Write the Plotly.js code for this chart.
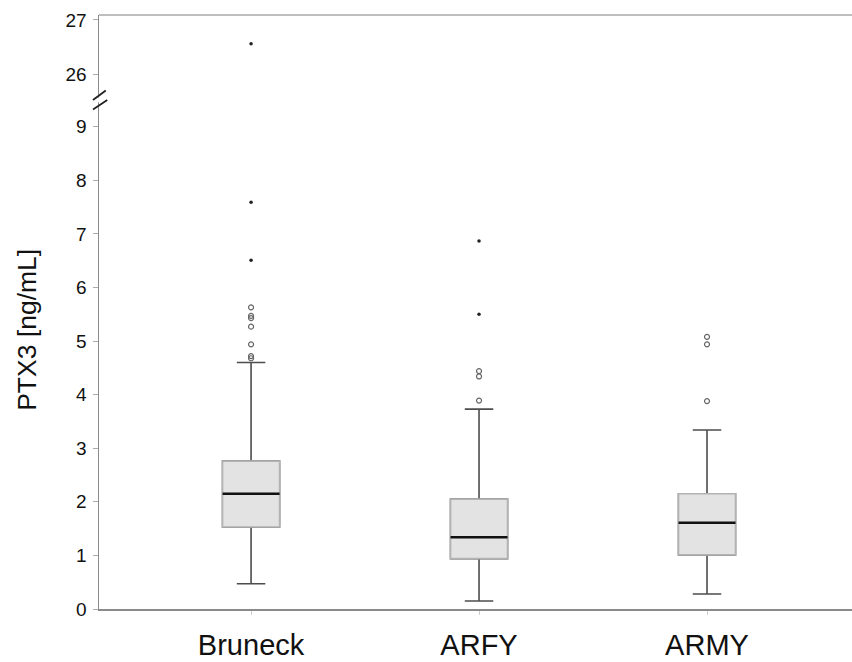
<!DOCTYPE html>
<html>
<head>
<meta charset="utf-8">
<script src="https://cdn.plot.ly/plotly-3.0.1.min.js"></script>
<style>html,body{margin:0;padding:0;background:#fff;}#chart{width:852px;height:662px;}</style>
</head>
<body>
<div id="chart"></div>
<script>
// ---- data ----
var groups = ['Bruneck', 'ARFY', 'ARMY'];
var q1 = [1.53, 0.94, 1.01];
var medians = [2.15, 1.34, 1.61];
var q3 = [2.76, 2.05, 2.15];
var lowerWhisker = [0.47, 0.15, 0.28];
var upperWhisker = [4.60, 3.73, 3.34];

// mild outliers (open circles)
var outlierGroup = ['Bruneck','Bruneck','Bruneck','Bruneck','Bruneck','Bruneck','Bruneck',
                    'ARFY','ARFY','ARFY',
                    'ARMY','ARMY','ARMY'];
var outlierValue = [5.63, 5.47, 5.43, 5.27, 4.94, 4.72, 4.68,
                    4.44, 4.34, 3.89,
                    5.08, 4.94, 3.88];
// extreme values (stars) on lower segment
var extremeGroup = ['Bruneck','Bruneck','ARFY','ARFY'];
var extremeValue = [7.59, 6.51, 6.87, 5.50];
// extreme values on upper (broken) segment
var highGroup = ['Bruneck'];
var highValue = [26.56];

var lowerTicks = [0,1,2,3,4,5,6,7,8,9];
var upperTicks = [26, 27];

var boxW = 0.25;
var traces = [
  { // whiskers
    type: 'box', x: groups, q1: q1, median: medians, q3: q3,
    lowerfence: lowerWhisker, upperfence: upperWhisker,
    width: boxW, whiskerwidth: 0.5, boxpoints: false,
    line: {color: '#4d4d4d', width: 1.6}, fillcolor: 'rgba(0,0,0,0)',
    hoverinfo: 'skip', showlegend: false, xaxis: 'x', yaxis: 'y'
  },
  { // boxes
    type: 'box', x: groups, q1: q1, median: medians, q3: q3,
    lowerfence: q1, upperfence: q3,
    width: boxW, whiskerwidth: 0, boxpoints: false,
    line: {color: '#b3b3b3', width: 1.6}, fillcolor: '#e3e3e3',
    hoverinfo: 'skip', showlegend: false, xaxis: 'x', yaxis: 'y'
  },
  { // medians
    type: 'box', x: groups, q1: medians, median: medians, q3: medians,
    lowerfence: medians, upperfence: medians,
    width: boxW, whiskerwidth: 0, boxpoints: false,
    line: {color: '#111111', width: 2.6}, fillcolor: 'rgba(0,0,0,0)',
    hoverinfo: 'skip', showlegend: false, xaxis: 'x', yaxis: 'y'
  },
  {
    type: 'scatter', mode: 'markers', x: outlierGroup, y: outlierValue,
    marker: {symbol: 'circle-open', size: 5, color: '#666666', line: {width: 1.2, color: '#666666'}},
    showlegend: false, xaxis: 'x', yaxis: 'y'
  },
  {
    type: 'scatter', mode: 'markers', x: extremeGroup, y: extremeValue,
    marker: {symbol: 'circle', size: 3.5, color: '#222222'},
    showlegend: false, xaxis: 'x', yaxis: 'y'
  },
  {
    type: 'scatter', mode: 'markers', x: highGroup, y: highValue,
    marker: {symbol: 'circle', size: 3.5, color: '#222222'},
    showlegend: false, xaxis: 'x', yaxis: 'y2'
  }
];

var split = 509/594;
var fontFam = '"Liberation Sans", Arial, sans-serif';
var layout = {
  width: 852, height: 662,
  margin: {l: 99, r: 0, t: 15, b: 53},
  paper_bgcolor: '#ffffff', plot_bgcolor: '#ffffff',
  boxmode: 'overlay',
  showlegend: false,
  font: {family: fontFam, color: '#111111'},
  xaxis: {
    type: 'category', categoryorder: 'array', categoryarray: groups,
    range: [-0.667, 2.636], anchor: 'y',
    showline: true, linecolor: '#8a8a8a', linewidth: 1.5,
    ticks: 'outside', ticklen: 4, tickcolor: '#cccccc',
    showgrid: false, zeroline: false,
    tickfont: {size: 29, color: '#111111'}, ticklabelstandoff: 6
  },
  yaxis: {
    domain: [0, split], range: [0, 9.5], anchor: 'x',
    tickvals: lowerTicks, ticktext: lowerTicks.map(String),
    showline: true, linecolor: '#8a8a8a', linewidth: 1.5,
    ticks: 'outside', ticklen: 5, tickcolor: '#aaaaaa',
    showgrid: false, zeroline: false,
    tickfont: {size: 19, color: '#111111'}, ticklabelstandoff: 2
  },
  yaxis2: {
    domain: [split, 1], range: [25.52, 27.09], anchor: 'x',
    tickvals: upperTicks, ticktext: upperTicks.map(String),
    showline: true, linecolor: '#8a8a8a', linewidth: 1.5,
    ticks: 'outside', ticklen: 5, tickcolor: '#aaaaaa',
    showgrid: false, zeroline: false,
    tickfont: {size: 19, color: '#111111'}, ticklabelstandoff: 2
  },
  annotations: [{
    text: 'PTX3 [ng/mL]', xref: 'paper', yref: 'paper',
    x: -0.0956, y: 0.47, xanchor: 'center', yanchor: 'middle',
    textangle: -90, showarrow: false,
    font: {size: 26.5, color: '#111111', family: fontFam}
  }],
  shapes: [
    {type: 'line', xref: 'paper', yref: 'paper', x0: 0, x1: 1, y0: 1, y1: 1,
     line: {color: '#a8a8a8', width: 1.5}},
    {type: 'rect', xref: 'paper', yref: 'paper',
     x0: -0.006, x1: 0.006, y0: split - 0.004, y1: split + 0.004,
     fillcolor: '#ffffff', line: {width: 0}},
    {type: 'line', xref: 'paper', yref: 'paper',
     x0: -0.008, x1: 0.009, y0: split + 0.0, y1: split + 0.016,
     line: {color: '#222222', width: 1.8}},
    {type: 'line', xref: 'paper', yref: 'paper',
     x0: -0.008, x1: 0.011, y0: split - 0.016, y1: split + 0.0,
     line: {color: '#222222', width: 1.8}}
  ]
};

Plotly.newPlot('chart', traces, layout, {displayModeBar: false, staticPlot: true});
</script>
</body>
</html>
